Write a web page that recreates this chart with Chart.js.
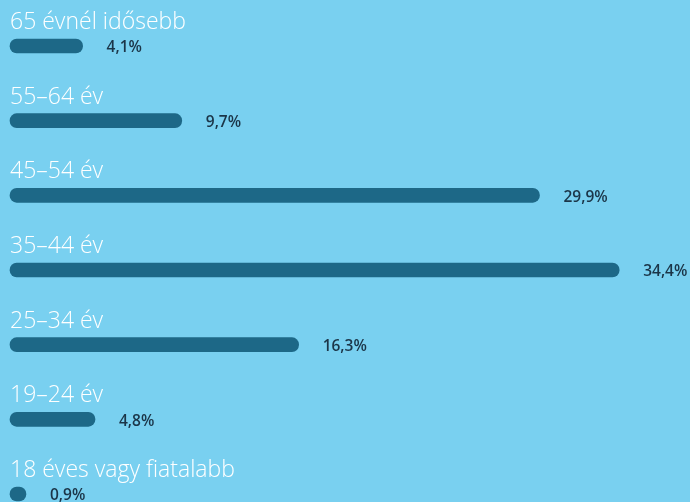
<!DOCTYPE html>
<html>
<head>
<meta charset="utf-8">
<script src="https://cdn.jsdelivr.net/npm/chart.js@4"></script>
<style>
  html, body { margin: 0; padding: 0; background: #79d0f0; }
  #wrap { width: 690px; height: 502px; position: relative; }
</style>
</head>
<body>
<div id="wrap"><canvas id="ages"></canvas></div>
<script>
const ageGroups = ["65 évnél idősebb", "55–64 év", "45–54 év", "35–44 év", "25–34 év", "19–24 év", "18 éves vagy fiatalabb"];
const shares = [4.1, 9.7, 29.9, 34.4, 16.3, 4.8, 0.9];

const labelsPlugin = {
    id: 'labels',
    afterDatasetsDraw(chart) {
        const ctx = chart.ctx;
        const bars = chart.getDatasetMeta(0).data;
        ctx.save();
        bars.forEach((bar, i) => {
            // category name above the bar
            ctx.font = '300 23px "Open Sans"';
            ctx.fillStyle = '#ffffff';
            ctx.textAlign = 'left';
            ctx.textBaseline = 'alphabetic';
            ctx.fillText(ageGroups[i], chart.chartArea.left, bar.y - 17);
            // value to the right
            ctx.font = '600 15.5px "Open Sans"';
            ctx.fillStyle = '#1b3548';
            ctx.textBaseline = 'middle';
            ctx.fillText(shares[i].toFixed(1).replace('.', ',') + '%', bar.x + 24, bar.y + 2);
        });
        ctx.restore();
    }
};

new Chart(document.getElementById('ages'), {
    type: 'bar',
    data: {
        labels: ageGroups,
        datasets: [{
            data: shares,
            backgroundColor: '#1d6887',
            borderRadius: 7,
            borderSkipped: false,
            barThickness: 14,
            clip: false
        }]
    },
    options: {
        indexAxis: 'y',
        responsive: true,
        maintainAspectRatio: false,
        animation: false,
        layout: { padding: { left: 10, right: 0, top: 46, bottom: 8 } },
        scales: {
            x: { display: false, min: 0, max: 38.4 },
            y: { display: false, offset: false }
        },
        plugins: {
            legend: { display: false },
            tooltip: { enabled: false }
        }
    },
    plugins: [labelsPlugin]
});
</script>
</body>
</html>
